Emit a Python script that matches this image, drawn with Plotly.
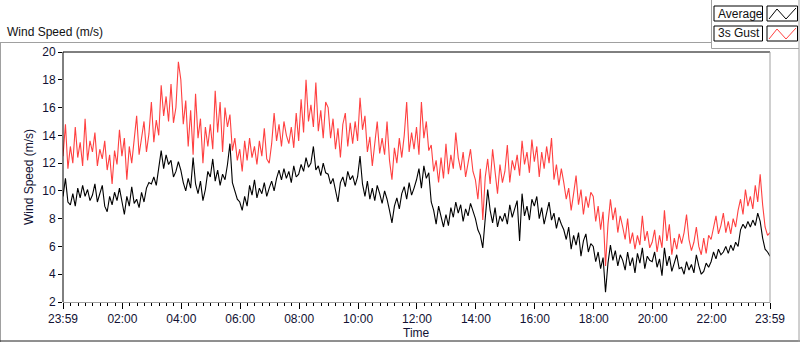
import pandas as pd
import plotly.graph_objects as go

# ---- data (5-minute samples from 23:59 to 23:59) ----
start_time = "2024-01-01 23:59"
step = "5min"

gust = [
    12.5, 14.8, 11.6, 13.2, 12.0, 14.6, 12.4, 13.5, 11.8, 15.2, 12.2, 13.6,
    12.8, 14.2, 11.8, 13.0, 12.3, 13.6, 11.5, 12.6, 10.5, 12.9, 11.9, 14.4,
    12.5, 13.8, 10.8, 13.2, 12.0, 14.0, 15.4, 12.6, 13.9, 15.0, 12.8, 14.1,
    16.4, 13.5, 15.1, 14.0, 17.6, 15.4, 16.8, 15.0, 17.7, 14.9, 16.0, 19.3,
    18.0, 14.8, 16.5, 13.2, 15.8, 12.6, 17.0, 13.8, 15.2, 12.0, 14.6, 13.2,
    14.8, 13.0, 17.2, 14.2, 16.4, 12.8, 16.0, 14.6, 15.5, 12.9, 13.8, 12.2,
    13.0, 11.4, 13.6, 12.2, 13.8, 12.4, 13.2, 11.9, 13.6, 12.5, 14.5, 12.3,
    12.0, 13.4, 15.6, 13.6, 14.8, 13.2, 15.0, 14.0, 13.4, 14.6, 13.1, 15.6,
    13.6, 16.6, 14.2, 18.0, 15.0, 16.2, 14.6, 17.8, 14.3, 15.8, 13.8, 16.4,
    16.0, 13.8, 15.2, 13.0, 14.5, 12.4, 14.8, 15.6, 13.2, 14.9, 13.4, 15.0,
    13.6, 16.7, 14.4, 15.4, 12.8, 13.9, 11.8, 13.4, 15.0, 12.7, 13.8, 12.6,
    15.0, 12.2, 10.8, 13.1, 12.0, 13.8, 12.4, 14.0, 16.4, 12.8, 14.2, 13.0,
    14.6, 12.6, 16.4, 13.8, 15.0, 12.9, 13.3, 11.4, 12.2, 10.6, 12.4, 10.9,
    13.4, 11.2, 12.6, 11.6, 14.2, 12.4, 11.5, 12.8, 11.0, 12.0, 13.0, 11.4,
    10.8, 9.4, 11.6, 7.9, 11.0, 12.3, 10.5, 13.0, 11.2, 9.8, 11.9, 10.6,
    11.4, 13.3, 10.6, 12.2, 11.5, 12.6, 11.1, 13.6, 11.9, 12.8, 11.3, 13.7,
    12.1, 13.2, 11.0, 12.8, 11.6, 13.2, 12.0, 13.8, 10.8, 11.9, 10.4, 11.6,
    10.6, 9.4, 10.2, 8.6, 9.8, 11.1, 9.0, 10.1, 8.3, 9.6, 8.8, 9.9,
    9.6, 7.8, 8.9, 7.2, 8.5, 4.6, 7.6, 9.4, 7.9, 8.8, 7.0, 8.2,
    7.4, 6.5, 8.0, 6.2, 7.0, 5.8, 6.8, 6.1, 8.2, 6.4, 7.1, 5.9,
    6.3, 7.2, 5.6, 6.8, 5.9, 8.6, 6.4, 7.6, 5.4, 6.6, 5.8, 6.9,
    6.2, 7.0, 8.3, 6.5, 5.7, 6.3, 7.4, 6.0, 5.4, 6.6, 5.5, 6.8,
    6.5, 7.3, 8.2, 6.9, 7.5, 8.4, 7.0, 7.8, 6.9, 8.0, 7.4, 8.6,
    9.4, 8.3, 10.1, 8.9, 9.6, 8.7, 10.4, 9.2, 11.2, 9.0, 7.4, 6.8,
    7.0,
]

average = [
    9.6, 10.9, 9.2, 9.0, 9.8, 8.9, 10.2, 9.5, 10.4, 9.6, 10.1, 9.3,
    9.7, 10.5, 9.2, 9.8, 10.4, 8.9, 8.5, 9.6, 9.0, 9.9, 9.3, 10.2,
    9.3, 8.3, 9.6, 8.9, 10.3, 9.1, 9.4, 8.8, 9.9, 9.2, 10.2, 10.6,
    10.5, 11.0, 10.4, 11.8, 12.9, 11.6, 12.6, 11.9, 12.2, 11.0, 11.4, 12.1,
    11.5, 10.6, 10.0, 10.9, 10.2, 12.4, 10.5, 9.8, 10.7, 9.3, 10.1, 11.4,
    11.0, 12.3, 10.7, 11.5, 10.4, 11.2, 10.8, 11.9, 13.4, 10.6, 9.9, 9.4,
    9.2, 8.6, 9.6, 8.9, 10.4, 9.7, 10.8, 9.5, 10.2, 9.8, 10.6, 9.6,
    10.2, 10.7, 10.0, 10.9, 11.5, 10.8, 11.6, 10.9, 11.4, 10.6, 11.8, 11.0,
    11.2, 11.9, 11.4, 12.4, 11.7, 12.0, 13.2, 11.5, 11.8, 11.1, 12.0, 11.3,
    11.2, 10.5, 10.9, 10.0, 9.2, 10.6, 11.0, 10.3, 11.4, 10.8, 11.1, 10.4,
    11.0, 12.5, 10.5, 9.6, 10.7, 9.4, 10.2, 9.3, 10.4, 9.8, 9.1, 10.0,
    9.4, 8.6, 7.7, 8.9, 9.5, 8.7, 9.8, 10.3, 9.4, 10.6, 9.7, 10.2,
    10.8, 11.6, 10.2, 11.8, 10.9, 11.3, 9.2, 8.6, 7.6, 8.9, 8.2, 7.4,
    8.3, 7.5, 8.8, 8.1, 9.2, 8.4, 9.0, 7.8, 8.7, 8.2, 9.1, 8.5,
    8.0, 7.2, 6.8, 5.9, 8.3, 10.1, 8.6, 7.7, 8.8, 7.4, 8.2, 7.8,
    8.4, 7.6, 9.0, 8.1, 8.7, 9.3, 6.4, 9.8, 8.2, 8.9, 7.9, 9.4,
    8.9, 9.6, 8.0, 8.8, 7.6, 8.5, 9.2, 7.9, 8.4, 7.3, 8.1, 7.6,
    7.2, 6.5, 7.4, 5.8, 6.8, 6.1, 7.0, 5.3, 6.4, 6.9, 5.6, 6.2,
    6.0, 4.9, 5.6, 4.4, 5.2, 2.7, 4.8, 6.1, 5.0, 5.7, 4.6, 5.4,
    5.0, 4.3, 5.6, 4.6, 5.2, 4.1, 5.5, 4.8, 5.9, 4.4, 5.3, 5.0,
    4.9, 5.6, 4.5, 5.1, 3.9, 5.9, 4.6, 5.3, 4.2, 4.8, 5.4, 4.4,
    4.5, 4.0, 4.9, 4.3, 4.7, 4.1, 5.4, 4.6, 4.0, 4.2, 4.8, 4.5,
    4.9, 5.6, 5.1, 5.8, 5.4, 5.6, 6.0, 5.5, 6.1, 5.7, 6.3, 6.0,
    7.2, 7.6, 7.3, 7.8, 7.4, 7.9, 7.5, 8.4, 7.8, 6.6, 5.8, 5.6,
    5.3,
]

tick_times = ["2024-01-01 23:59", "2024-01-02 02:00", "2024-01-02 04:00",
              "2024-01-02 06:00", "2024-01-02 08:00", "2024-01-02 10:00",
              "2024-01-02 12:00", "2024-01-02 14:00", "2024-01-02 16:00",
              "2024-01-02 18:00", "2024-01-02 20:00", "2024-01-02 22:00",
              "2024-01-02 23:59"]
tick_labels = ["23:59", "02:00", "04:00", "06:00", "08:00", "10:00", "12:00",
               "14:00", "16:00", "18:00", "20:00", "22:00", "23:59"]
y_ticks = [2, 4, 6, 8, 10, 12, 14, 16, 18, 20]

times = pd.date_range(start=start_time, periods=len(gust), freq=step)

FONT = "Liberation Sans"
W, H = 800, 342
L, R, T, B = 63, 770, 52, 302


def px(x):
    return (x - L) / (R - L)


def py(y):
    return (B - y) / (B - T)


fig = go.Figure()
fig.add_trace(go.Scatter(x=times, y=average, mode="lines", name="Average",
                         line=dict(color="#000000", width=1.1)))
fig.add_trace(go.Scatter(x=times, y=gust, mode="lines", name="3s Gust",
                         line=dict(color="#FF4040", width=1.1)))

shapes = []


def line(x0, y0, x1, y1, color, width=1):
    shapes.append(dict(type="line", xref="paper", yref="paper",
                       x0=px(x0), y0=py(y0), x1=px(x1), y1=py(y1),
                       line=dict(color=color, width=width)))


def rect(x0, y0, x1, y1, color="#000000"):
    shapes.append(dict(type="rect", xref="paper", yref="paper",
                       x0=px(x0), y0=py(y0), x1=px(x1), y1=py(y1),
                       line=dict(color=color, width=1), fillcolor="white"))


def zig(points, color):
    d = "M " + " L ".join(f"{px(a)},{py(b)}" for a, b in points)
    shapes.append(dict(type="path", xref="paper", yref="paper", path=d,
                       line=dict(color=color, width=1)))


GRAY = "#A0A0A0"
# outer frame
line(0, 42.5, 712, 42.5, GRAY)
line(0.5, 42.5, 0.5, 342, GRAY)
line(0, 341, 800, 341, "#202020")
line(799, 0, 799, 342, GRAY)
# legend panel
line(711.5, 0, 711.5, 48.5, GRAY)
line(711.5, 48.5, 799, 48.5, GRAY)
# plot frame
line(L, T, R, T, "#000000")
line(L, T, L, B, "#000000")
line(L, B + 0.5, R, B + 0.5, GRAY)
line(R, T, R, B + 0.5, GRAY)
# legend boxes
rect(714, 6, 762.5, 21)
rect(767, 6, 797.5, 21)
rect(714, 26, 762.5, 41)
rect(767, 26, 797.5, 41)
zig([(769, 19), (777, 9), (786, 19), (796, 8)], "#000000")
zig([(769, 39), (777, 29), (786, 39), (796, 28)], "#FF4040")

annotations = [
    dict(text="Wind Speed (m/s)", x=px(5), y=py(32), xref="paper", yref="paper",
         xanchor="left", yanchor="middle", showarrow=False,
         font=dict(family=FONT, size=12, color="#111111")),
    dict(text="Average", x=px(716), y=py(13.5), xref="paper", yref="paper",
         xanchor="left", yanchor="middle", showarrow=False,
         font=dict(family=FONT, size=12, color="#111111")),
    dict(text="3s Gust", x=px(716), y=py(33.5), xref="paper", yref="paper",
         xanchor="left", yanchor="middle", showarrow=False,
         font=dict(family=FONT, size=12, color="#111111")),
    dict(text="Wind Speed (m/s)", x=px(29), y=py(177), xref="paper", yref="paper",
         xanchor="center", yanchor="middle", textangle=-90, showarrow=False,
         font=dict(family=FONT, size=12, color="#111133")),
    dict(text="Time", x=px(416.5), y=py(333), xref="paper", yref="paper",
         xanchor="center", yanchor="middle", showarrow=False,
         font=dict(family=FONT, size=12, color="#111133")),
]

fig.update_layout(
    width=W, height=H,
    margin=dict(l=L, r=W - R, t=T, b=H - B, pad=0),
    paper_bgcolor="white", plot_bgcolor="white",
    showlegend=False,
    shapes=shapes, annotations=annotations,
    font=dict(family=FONT, size=12, color="#111111"),
    xaxis=dict(type="date", range=[tick_times[0], tick_times[-1]],
               tickvals=tick_times, ticktext=tick_labels,
               ticks="outside", ticklen=6, tickcolor="#000000",
               showgrid=False, zeroline=False, showline=False,
               tickfont=dict(family=FONT, size=12, color="#111133"),
               minor=dict(ticks="outside", ticklen=3, tickcolor="#000000",
                          dtick=15 * 60 * 1000, tick0="2024-01-02 00:00",
                          showgrid=False)),
    yaxis=dict(range=[2, 20], tickvals=y_ticks,
               ticks="outside", ticklen=4, tickcolor="#000000",
               showgrid=False, zeroline=False, showline=False,
               tickfont=dict(family=FONT, size=12, color="#111133")),
)

fig.write_html("out.html",
               config={"displayModeBar": False},
               post_script="document.body.style.margin='0px';"
                           "document.body.style.overflow='hidden';")
